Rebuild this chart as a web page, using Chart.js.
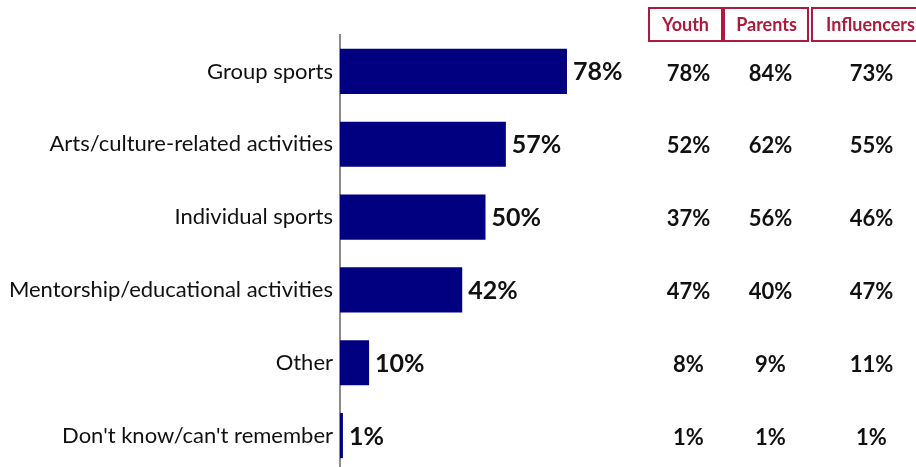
<!DOCTYPE html>
<html>
<head>
<meta charset="utf-8">
<script src="https://cdn.jsdelivr.net/npm/chart.js@4.4.1/dist/chart.umd.min.js"></script>
<style>
  html, body { margin: 0; padding: 0; width: 916px; height: 467px; overflow: hidden; background: #ffffff; }
  canvas { position: absolute; left: 0; top: 0; }
</style>
</head>
<body>
<canvas id="chart" width="916" height="472"></canvas>
<script>
// Activities taken part in, overall and by audience
const categories = [
  'Group sports',
  'Arts/culture-related activities',
  'Individual sports',
  'Mentorship/educational activities',
  'Other',
  "Don't know/can't remember"
];
const totalValues = [78, 57, 50, 42, 10, 1];
const youthValues = [78, 52, 37, 47, 8, 1];
const parentsValues = [84, 62, 56, 40, 9, 1];
const influencersValues = [73, 55, 46, 47, 11, 1];
const columnHeaders = ['Youth', 'Parents', 'Influencers'];

const FONT = "Lato, 'Open Sans', 'DejaVu Sans', sans-serif";
const BAR_COLOR = '#000080';
const TEXT_COLOR = '#111111';
const HEADER_COLOR = '#ad1a3c';

// Column layout of the side table: header box edges and text centres
const tableColumns = [
  { values: youthValues,       center: 688.5, boxLeft: 649, boxRight: 722, headCenter: 685.5 },
  { values: parentsValues,     center: 770.5, boxLeft: 724, boxRight: 808, headCenter: 766.5 },
  { values: influencersValues, center: 871.5, boxLeft: 812, boxRight: 930, headCenter: 870.5 }
];

const barValueLabels = {
  id: 'barValueLabels',
  afterDatasetsDraw(chart) {
    const ctx = chart.ctx;
    const meta = chart.getDatasetMeta(0);
    ctx.save();
    ctx.font = "bold 25px " + FONT;
    ctx.fillStyle = TEXT_COLOR;
    ctx.textAlign = 'left';
    ctx.textBaseline = 'middle';
    meta.data.forEach((bar, i) => {
      ctx.fillText(totalValues[i] + '%', bar.x + 6, bar.y + 1);
    });
    ctx.restore();
  }
};

const sideTable = {
  id: 'sideTable',
  afterDraw(chart) {
    const ctx = chart.ctx;
    const yScale = chart.scales.y;
    ctx.save();
    // header boxes
    ctx.lineWidth = 2;
    ctx.strokeStyle = HEADER_COLOR;
    ctx.fillStyle = HEADER_COLOR;
    ctx.font = "bold 18px " + FONT;
    ctx.textAlign = 'center';
    ctx.textBaseline = 'middle';
    tableColumns.forEach((col, c) => {
      ctx.strokeRect(col.boxLeft, 8, col.boxRight - col.boxLeft, 33);
      ctx.fillText(columnHeaders[c], col.headCenter, 25);
    });
    // values per audience
    ctx.fillStyle = TEXT_COLOR;
    ctx.font = "bold 22px " + FONT;
    tableColumns.forEach(col => {
      col.values.forEach((v, i) => {
        ctx.fillText(v + '%', col.center, yScale.getPixelForValue(i) + 2);
      });
    });
    ctx.restore();
  }
};

new Chart(document.getElementById('chart'), {
  type: 'bar',
  data: {
    labels: categories,
    datasets: [{
      data: totalValues,
      backgroundColor: BAR_COLOR,
      borderWidth: 0,
      categoryPercentage: 1,
      barPercentage: 0.62
    }]
  },
  options: {
    indexAxis: 'y',
    responsive: false,
    maintainAspectRatio: false,
    animation: false,
    layout: { padding: { left: 0, right: 285, top: 35, bottom: 0 } },
    plugins: { legend: { display: false }, tooltip: { enabled: false } },
    scales: {
      x: {
        display: false,
        min: 0,
        max: 100
      },
      y: {
        afterFit(scale) {
          scale.width = 340;
          scale.paddingTop = 0;
          scale.paddingBottom = 0;
        },
        grid: { display: false, drawTicks: false },
        border: { display: true, color: '#8c8c8c', width: 2 },
        ticks: {
          color: TEXT_COLOR,
          padding: 7,
          font: { family: FONT, size: 22 }
        }
      }
    }
  },
  plugins: [barValueLabels, sideTable]
});
</script>
</body>
</html>
